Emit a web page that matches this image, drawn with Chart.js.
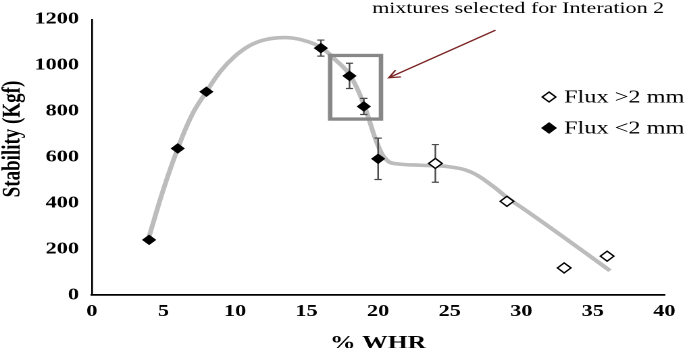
<!DOCTYPE html>
<html>
<head>
<meta charset="utf-8">
<script src="https://cdn.jsdelivr.net/npm/chart.js@4.4.0/dist/chart.umd.min.js"></script>
<style>
  body { margin: 0; background: #fff; overflow: hidden; }
  /* the reference is stretched sideways, so the whole chart is drawn narrow and widened */
  #marco { width: 507px; height: 348px; transform: scaleX(1.351); transform-origin: 0 0; }
</style>
</head>
<body>
<div id="marco"><canvas id="myChart" width="507" height="348"></canvas></div>
<script>
// Flux <2 mm (filled diamonds)
const whrMenor = [4, 6, 8, 16, 18, 19, 20];
const estabMenor = [240, 638, 885, 1075, 954, 821, 593];
const errMenor = [0, 0, 0, 35, 55, 35, 90];

// Flux >2 mm (open diamonds)
const whrMayor = [24, 29, 33, 36];
const estabMayor = [573, 408, 118, 169];
const errMayor = [82, 0, 0, 0];

// grey trend curve
const tendX = [4, 5, 6, 7, 8, 9, 10, 11, 12, 13, 14, 15, 16, 17, 18, 19, 20, 20.7, 21.5, 23, 25, 26.5, 28, 29, 30.4, 33, 36.2];
const tendY = [255, 460, 638, 785, 885, 975, 1040, 1085, 1110, 1120, 1119, 1105, 1078, 1025, 960, 830, 650, 582, 570, 565, 558, 535, 475, 425, 365, 250, 106];

const ticksX = [0, 5, 10, 15, 20, 25, 30, 35, 40];
const ticksY = [0, 200, 400, 600, 800, 1000, 1200];

const nombres = ['Flux >2 mm', 'Flux <2 mm'];
const nota = 'mixtures selected for Interation 2';

const serif = "'Liberation Serif', 'Times New Roman', serif";

function puntos(xs, ys) {
    return xs.map((v, i) => ({x: v, y: ys[i]}));
}

function rombo(ctx, cx, cy, r, relleno) {
    ctx.beginPath();
    ctx.moveTo(cx, cy - r);
    ctx.lineTo(cx + r, cy);
    ctx.lineTo(cx, cy + r);
    ctx.lineTo(cx - r, cy);
    ctx.closePath();
    ctx.fillStyle = relleno;
    ctx.fill();
    ctx.lineWidth = 1.3;
    ctx.strokeStyle = '#000';
    ctx.stroke();
}

const extras = {
    id: 'extras',
    afterDatasetDraw(chart, args) {
        if (args.index !== 0) return;
        // error bars, on top of the curve but under the markers
        const ctx = chart.ctx, sx = chart.scales.x, sy = chart.scales.y;
        ctx.save();
        ctx.strokeStyle = '#4a4a4a';
        ctx.lineWidth = 1.2;
        const barras = (xs, ys, es) => {
            for (let i = 0; i < xs.length; i++) {
                if (!es[i]) continue;
                const px = sx.getPixelForValue(xs[i]);
                const arriba = sy.getPixelForValue(ys[i] + es[i]);
                const abajo = sy.getPixelForValue(ys[i] - es[i]);
                ctx.beginPath();
                ctx.moveTo(px, arriba); ctx.lineTo(px, abajo);
                ctx.moveTo(px - 2.7, arriba); ctx.lineTo(px + 2.7, arriba);
                ctx.moveTo(px - 2.7, abajo); ctx.lineTo(px + 2.7, abajo);
                ctx.stroke();
            }
        };
        barras(whrMenor, estabMenor, errMenor);
        barras(whrMayor, estabMayor, errMayor);
        ctx.restore();
    },
    afterDraw(chart) {
        const ctx = chart.ctx, sx = chart.scales.x, sy = chart.scales.y;
        ctx.save();

        // box round the selected mixtures
        const x0 = sx.getPixelForValue(16.65), x1 = sx.getPixelForValue(20.2);
        const y0 = sy.getPixelForValue(1043), y1 = sy.getPixelForValue(766);
        ctx.strokeStyle = '#878787';
        ctx.lineWidth = 3.3;
        ctx.strokeRect(x0, y0, x1 - x0, y1 - y0);

        // arrow
        const ax = sx.getPixelForValue(28.2), ay = sy.getPixelForValue(1153);
        const bx = sx.getPixelForValue(20.75), by = sy.getPixelForValue(946);
        const ang = Math.atan2(ay - by, ax - bx);
        ctx.strokeStyle = '#7a2424';
        ctx.lineWidth = 1.3;
        ctx.beginPath();
        ctx.moveTo(ax, ay); ctx.lineTo(bx, by);
        ctx.moveTo(bx + 9 * Math.cos(ang + 0.45), by + 9 * Math.sin(ang + 0.45));
        ctx.lineTo(bx, by);
        ctx.lineTo(bx + 9 * Math.cos(ang - 0.45), by + 9 * Math.sin(ang - 0.45));
        ctx.stroke();

        ctx.fillStyle = '#000';
        ctx.font = '16.3px ' + serif;
        ctx.textAlign = 'center';
        ctx.textBaseline = 'alphabetic';
        ctx.fillText(nota, 383.5, 13);

        // legend
        ctx.font = '18px ' + serif;
        ctx.textAlign = 'left';
        ctx.textBaseline = 'middle';
        rombo(ctx, 406.4, 97, 5, '#fff');
        ctx.fillStyle = '#000';
        ctx.fillText(nombres[0], 417.5, 98);
        rombo(ctx, 406.4, 128, 5, '#000');
        ctx.fillStyle = '#000';
        ctx.fillText(nombres[1], 417.5, 129);

        // y axis title
        ctx.translate(9.8, 139);
        ctx.rotate(-Math.PI / 2);
        ctx.font = 'bold 19px ' + serif;
        ctx.textAlign = 'center';
        ctx.fillText('Stability (Kgf)', 0, 0);
        ctx.restore();
    }
};

function graficar() {
    const ctx = document.getElementById('myChart').getContext('2d');
    const myChart = new Chart(ctx, {
        type: 'scatter',
        data: {
            datasets: [{
                label: 'trend',
                data: puntos(tendX, tendY),
                showLine: true,
                tension: 0.4,
                borderColor: '#bcbcbc',
                borderWidth: 3.6,
                pointRadius: 0,
                order: 3
            }, {
                label: nombres[1],
                data: puntos(whrMenor, estabMenor),
                pointStyle: 'rectRot',
                pointRadius: 4.6,
                backgroundColor: '#000',
                borderColor: '#000',
                borderWidth: 1,
                order: 1
            }, {
                label: nombres[0],
                data: puntos(whrMayor, estabMayor),
                pointStyle: 'rectRot',
                pointRadius: 5,
                backgroundColor: '#fff',
                borderColor: '#000',
                borderWidth: 1.3,
                order: 2
            }]
        },
        options: {
            responsive: false,
            devicePixelRatio: 2,
            animation: false,
            events: [],
            layout: { padding: { left: 0, right: 13.3, top: 13, bottom: 0 } },
            scales: {
                x: {
                    type: 'linear',
                    min: 0,
                    max: 40,
                    afterBuildTicks: s => { s.ticks = ticksX.map(v => ({value: v})); },
                    afterFit: s => { s.height = 53; },
                    grid: { display: false, drawTicks: false },
                    border: { display: true, color: '#000', width: 1.8 },
                    ticks: {
                        color: '#000',
                        padding: 7,
                        maxRotation: 0,
                        autoSkip: false,
                        callback: v => String(v),
                        font: { family: serif, size: 16.5, weight: 'bold' }
                    },
                    title: {
                        display: true,
                        text: '% WHR',
                        color: '#000',
                        padding: { top: 0, bottom: -5 },
                        font: { family: serif, size: 19, weight: 'bold', lineHeight: 1 }
                    }
                },
                y: {
                    min: 0,
                    max: 1200,
                    afterBuildTicks: s => { s.ticks = ticksY.map(v => ({value: v})); },
                    afterFit: s => { s.width = 68; },
                    grid: { display: false, drawTicks: false },
                    border: { display: true, color: '#000', width: 1.3 },
                    ticks: {
                        color: '#000',
                        padding: 9.5,
                        autoSkip: false,
                        callback: v => String(v),
                        font: { family: serif, size: 16.5, weight: 'bold' }
                    }
                }
            },
            plugins: {
                legend: { display: false },
                tooltip: { enabled: false }
            }
        },
        plugins: [extras]
    });
}

window.addEventListener('load', graficar);
</script>
</body>
</html>
